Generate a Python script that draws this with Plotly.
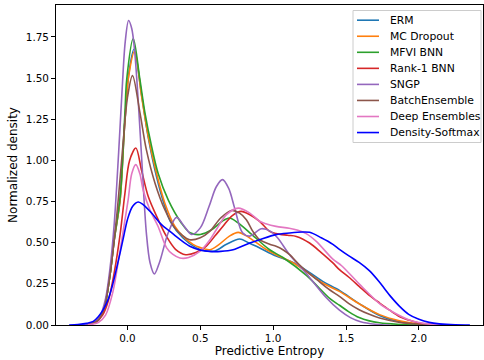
import plotly.graph_objects as go

# ---------------- data ----------------
names = ["ERM", "MC Dropout", "MFVI BNN", "Rank-1 BNN", "SNGP",
         "BatchEnsemble", "Deep Ensembles", "Density-Softmax"]

erm_x = [-0.27, -0.2, -0.16, -0.12, -0.09, -0.05, -0.02, 0.01, 0.045, 0.097, 0.143, 0.2, 0.257,
         0.3, 0.38, 0.47, 0.54, 0.6, 0.68, 0.77, 0.83, 0.885, 1.0, 1.16, 1.34, 1.455, 1.59,
         1.73, 1.87, 2.0, 2.12]
erm_y = [0.002, 0.03, 0.1, 0.3, 0.52, 0.76, 1.2, 1.53, 1.675, 1.4, 1.14, 0.9, 0.72,
         0.62, 0.53, 0.47, 0.45, 0.45, 0.49, 0.522, 0.5, 0.478, 0.427, 0.37, 0.265, 0.21, 0.13,
         0.058, 0.02, 0.005, 0.0]

mcd_x = [-0.27, -0.2, -0.16, -0.12, -0.09, -0.05, -0.02, 0.01, 0.05, 0.097, 0.143, 0.2, 0.257,
         0.325, 0.38, 0.45, 0.5, 0.565, 0.63, 0.7, 0.76, 0.82, 0.885, 0.95, 1.02, 1.159, 1.34,
         1.455, 1.59, 1.73, 1.866, 2.0, 2.12]
mcd_y = [0.002, 0.03, 0.1, 0.3, 0.52, 0.76, 1.2, 1.52, 1.665, 1.39, 1.146, 0.92, 0.74,
         0.6, 0.54, 0.49, 0.47, 0.457, 0.49, 0.54, 0.563, 0.54, 0.5, 0.46, 0.427, 0.366, 0.255,
         0.204, 0.129, 0.063, 0.026, 0.006, 0.0]

mfvi_x = [-0.27, -0.2, -0.16, -0.12, -0.09, -0.05, -0.017, -0.005, 0.04, 0.086, 0.12, 0.166,
          0.211, 0.28, 0.37, 0.43, 0.5, 0.58, 0.65, 0.7, 0.76, 0.84, 0.976, 1.067, 1.23, 1.39,
          1.455, 1.52, 1.59, 1.66, 1.73, 1.85, 2.0]
mfvi_y = [0.002, 0.03, 0.1, 0.3, 0.52, 0.78, 1.29, 1.49, 1.74, 1.49, 1.29, 1.085,
          0.92, 0.76, 0.62, 0.56, 0.55, 0.58, 0.63, 0.65, 0.62, 0.56, 0.457, 0.41, 0.3, 0.16,
          0.12, 0.08, 0.045, 0.025, 0.014, 0.005, 0.0]

rank1_x = [-0.28, -0.22, -0.17, -0.13, -0.09, -0.05, -0.017, 0.015, 0.058, 0.097, 0.143, 0.211,
           0.268, 0.33, 0.4, 0.47, 0.54, 0.6, 0.656, 0.72, 0.78, 0.84, 0.907, 0.976, 1.02, 1.1,
           1.159, 1.25, 1.33, 1.41, 1.455, 1.52, 1.59, 1.66, 1.73, 1.8, 1.866, 1.93, 2.0, 2.1,
           2.2]
rank1_y = [0.002, 0.015, 0.06, 0.15, 0.32, 0.55, 0.8, 1.0, 1.075, 0.94, 0.78, 0.64,
           0.538, 0.46, 0.427, 0.44, 0.478, 0.54, 0.6, 0.665, 0.69, 0.67, 0.63, 0.569, 0.555, 0.545,
           0.538, 0.498, 0.44, 0.377, 0.336, 0.29, 0.235, 0.18, 0.134, 0.09, 0.052, 0.03, 0.012, 0.002,
           0.0]

sngp_x = [-0.32, -0.24, -0.19, -0.15, -0.12, -0.09, -0.06, -0.035, -0.015, 0.008, 0.03, 0.05,
          0.075, 0.1, 0.13, 0.155, 0.185, 0.22, 0.28, 0.337, 0.39, 0.44, 0.5, 0.56, 0.61, 0.652,
          0.695, 0.736, 0.79, 0.84, 0.92, 0.98, 1.03, 1.11, 1.23, 1.36, 1.455, 1.53, 1.6, 1.7,
          1.8]
sngp_y = [0.0, 0.008, 0.05, 0.16, 0.34, 0.62, 1.05, 1.45, 1.72, 1.85, 1.8, 1.66,
          1.35, 0.98, 0.56, 0.38, 0.31, 0.38, 0.56, 0.654, 0.6, 0.55, 0.59, 0.72, 0.84, 0.883,
          0.83, 0.71, 0.56, 0.54, 0.585, 0.57, 0.53, 0.43, 0.31, 0.17, 0.09, 0.045, 0.02, 0.005,
          0.0]

be_x = [-0.27, -0.2, -0.16, -0.12, -0.09, -0.063, -0.03, 0.0, 0.035, 0.086, 0.13, 0.19, 0.257,
        0.325, 0.37, 0.428, 0.5, 0.565, 0.64, 0.713, 0.77, 0.816, 0.86, 0.907, 0.976, 1.02,
        1.067, 1.113, 1.18, 1.25, 1.3, 1.387, 1.455, 1.52, 1.59, 1.66, 1.73, 1.87, 2.0, 2.1]
be_y = [0.002, 0.03, 0.1, 0.3, 0.52, 0.76, 1.1, 1.38, 1.515, 1.29, 1.065, 0.86, 0.7,
        0.59, 0.55, 0.518, 0.53, 0.569, 0.65, 0.696, 0.68, 0.64, 0.57, 0.518, 0.49, 0.478,
        0.457, 0.427, 0.366, 0.31, 0.275, 0.214, 0.174, 0.13, 0.093, 0.065, 0.042, 0.016, 0.005, 0.0]

de_x = [-0.27, -0.2, -0.15, -0.1, -0.06, -0.02, 0.005, 0.03, 0.058, 0.085, 0.108, 0.154, 0.21,
        0.268, 0.31, 0.36, 0.42, 0.497, 0.56, 0.61, 0.68, 0.76, 0.84, 0.907, 0.95, 1.02, 1.11,
        1.17, 1.227, 1.296, 1.41, 1.47, 1.59, 1.73, 1.8, 1.93, 2.0, 2.1, 2.2]
de_y = [0.002, 0.015, 0.06, 0.2, 0.4, 0.62, 0.76, 0.92, 0.974, 0.92, 0.82, 0.7, 0.6,
        0.47, 0.43, 0.407, 0.41, 0.447, 0.51, 0.579, 0.67, 0.71, 0.68, 0.63, 0.615, 0.599, 0.588,
        0.575, 0.555, 0.508, 0.4, 0.36, 0.25, 0.13, 0.09, 0.032, 0.015, 0.003, 0.0]

ds_x = [-0.4, -0.34, -0.28, -0.234, -0.2, -0.166, -0.13, -0.1, -0.06, -0.03, 0.0, 0.035, 0.074,
        0.11, 0.166, 0.234, 0.29, 0.36, 0.428, 0.5, 0.565, 0.64, 0.725, 0.84, 0.907, 1.02, 1.113,
        1.2, 1.25, 1.33, 1.41, 1.455, 1.52, 1.59, 1.66, 1.73, 1.8, 1.866, 1.93, 2.0, 2.07, 2.14,
        2.25, 2.35]
ds_y = [0.0, 0.003, 0.01, 0.022, 0.05, 0.093, 0.16, 0.25, 0.4, 0.52, 0.64, 0.72, 0.747,
        0.73, 0.68, 0.61, 0.57, 0.52, 0.478, 0.455, 0.447, 0.447, 0.457, 0.498, 0.518, 0.549, 0.559,
        0.565, 0.563, 0.53, 0.49, 0.46, 0.42, 0.38, 0.33, 0.26, 0.18, 0.115, 0.065, 0.035, 0.016, 0.007,
        0.001, 0.0]

series_x = [erm_x, mcd_x, mfvi_x, rank1_x, sngp_x, be_x, de_x, ds_x]
series_y = [erm_y, mcd_y, mfvi_y, rank1_y, sngp_y, be_y, de_y, ds_y]

x_ticks = [0.0, 0.5, 1.0, 1.5, 2.0]
x_tick_labels = ["0.0", "0.5", "1.0", "1.5", "2.0"]
y_ticks = [0.0, 0.25, 0.5, 0.75, 1.0, 1.25, 1.5, 1.75]
y_tick_labels = ["0.00", "0.25", "0.50", "0.75", "1.00", "1.25", "1.50", "1.75"]

# ---------------- styles ----------------
colors = ["#1f77b4", "#ff7f0e", "#2ca02c", "#d62728", "#9467bd",
          "#8c564b", "#e377c2", "#0000ff"]
FONT = "DejaVu Sans"
FS_TICK = 10.4
FS_LEG = 10.8
FS_TITLE = 12

fig = go.Figure()
for name, xs, ys, c in zip(names, series_x, series_y, colors):
    fig.add_trace(go.Scatter(x=xs, y=ys, mode="lines", name=name,
                             line=dict(color=c, width=1.6, shape="spline", smoothing=0.9),
                             showlegend=False, hoverinfo="skip"))

W, H = 484, 360
ml, mr, mt, mb = 56, 1, 5, 35
pw, ph = W - ml - mr, H - mt - mb

def px_x(p):
    return (p - ml) / pw

def px_y(p):
    return (H - mb - p) / ph

shapes = []
annotations = []
# legend frame
shapes.append(dict(type="rect", xref="paper", yref="paper",
                   x0=px_x(353), x1=px_x(481), y0=px_y(142.5), y1=px_y(10.5),
                   line=dict(color="#cccccc", width=1), fillcolor="rgba(255,255,255,0.8)",
                   layer="above"))
for i, (name, c) in enumerate(zip(names, colors)):
    yc = 20.2 + 16.05 * i
    shapes.append(dict(type="line", xref="paper", yref="paper",
                       x0=px_x(357), x1=px_x(379), y0=px_y(yc), y1=px_y(yc),
                       line=dict(color=c, width=1.6), layer="above"))
    annotations.append(dict(xref="paper", yref="paper", x=px_x(387.5), y=px_y(yc),
                            text=name, showarrow=False, xanchor="left", yanchor="middle",
                            font=dict(family=FONT, size=FS_LEG, color="#000000")))

fig.update_layout(
    width=W, height=H,
    margin=dict(l=ml, r=mr, t=mt, b=mb),
    paper_bgcolor="white", plot_bgcolor="white",
    font=dict(family=FONT, size=FS_TICK, color="#000000"),
    shapes=shapes, annotations=annotations, showlegend=False,
    xaxis=dict(range=[-0.49, 2.44], tickvals=x_ticks, ticktext=x_tick_labels,
               ticks="outside", ticklen=4, tickwidth=1, tickcolor="#000000",
               showline=True, linecolor="#000000", linewidth=1, mirror=True,
               showgrid=False, zeroline=False, tickfont=dict(size=FS_TICK),
               title=dict(text="Predictive Entropy", standoff=3,
                          font=dict(family=FONT, size=FS_TITLE))),
    yaxis=dict(range=[0, 1.944], tickvals=y_ticks, ticktext=y_tick_labels,
               ticks="outside", ticklen=4, tickwidth=1, tickcolor="#000000",
               showline=True, linecolor="#000000", linewidth=1, mirror=True,
               showgrid=False, zeroline=False, tickfont=dict(size=FS_TICK),
               title=dict(text="Normalized density", standoff=5,
                          font=dict(family=FONT, size=FS_TITLE))),
)

fig.write_html("out.html")
